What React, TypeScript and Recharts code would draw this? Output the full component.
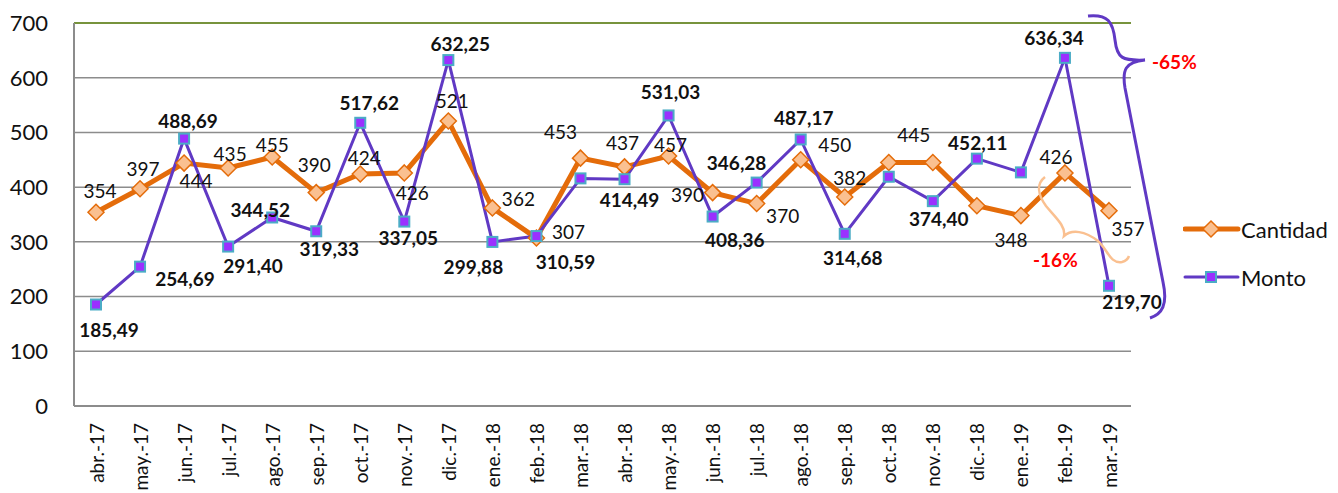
import React from "react";
import {
  CartesianGrid,
  Line,
  LineChart,
  ReferenceLine,
  XAxis,
  YAxis,
} from "recharts";

const MONTHS = [
  "abr.-17", "may.-17", "jun.-17", "jul.-17", "ago.-17", "sep.-17", "oct.-17", "nov.-17",
  "dic.-17", "ene.-18", "feb.-18", "mar.-18", "abr.-18", "may.-18", "jun.-18", "jul.-18",
  "ago.-18", "sep.-18", "oct.-18", "nov.-18", "dic.-18", "ene.-19", "feb.-19", "mar.-19",
];

const CANTIDAD = [
  354, 397, 444, 435, 455, 390, 424, 426, 521, 362, 307, 453,
  437, 457, 390, 370, 450, 382, 445, 445, 366, 348, 426, 357,
];

const MONTO = [
  185.49, 254.69, 488.69, 291.4, 344.52, 319.33, 517.62, 337.05, 632.25, 299.88, 310.59, 416,
  414.49, 531.03, 346.28, 408.36, 487.17, 314.68, 419, 374.4, 452.11, 427, 636.34, 219.7,
];

const Y_TICKS = [0, 100, 200, 300, 400, 500, 600, 700];

// label offsets from the point (dx, dy); null = no label shown
const CANT_LABEL_POS: ([number, number] | null)[] = [
  [4, -22], [3, -20], [12, 17], [2, -14], [0, -13], [-2, -28], [4, -17], [8, 20],
  [4, -20], [26, -9], [32, -7], [-20, -27], [-2, -24], [2, -11], [-25, 2], [26, 12],
  [34, -15], [5, -19], [25, -28], null, null, [-10, 24], [-9, -16], [19, 18],
];

const MONTO_LABEL_POS: ([number, number] | null)[] = [
  [13, 25], [45, 12], [4, -18], [25, 19], [-12, -8], [13, 17], [9, -20], [4, 16],
  [12, -17], [-19, 25], [29, 25], null, [5, 20], [2, -24], [24, -54], [-22, 57],
  [3, -22], [8, 24], null, [6, 17], [1, -16], null, [-11, -20], [23, 16],
];

const data = MONTHS.map((m, i) => ({ mes: m, Cantidad: CANTIDAD[i], Monto: MONTO[i] }));

const FONT = "Lato, 'Open Sans', sans-serif";
const ORANGE = "#E46C0A";
const ORANGE_FILL = "#FAC090";
const PURPLE = "#6039C4";
const VIOLET = "#9B30FF";
const TEAL = "#4BACC6";
const GREEN = "#77933C";

const Diamond = (props: any) => {
  const { cx, cy } = props;
  if (cx == null || cy == null) return null;
  const r = 8;
  return (
    <polygon
      points={`${cx},${cy - r} ${cx + r},${cy} ${cx},${cy + r} ${cx - r},${cy}`}
      fill={ORANGE_FILL}
      stroke={ORANGE}
      strokeWidth={1.5}
    />
  );
};

const Square = (props: any) => {
  const { cx, cy } = props;
  if (cx == null || cy == null) return null;
  return <rect x={cx - 5} y={cy - 5} width={10} height={10} fill={VIOLET} stroke={TEAL} strokeWidth={2} />;
};

const cantLabel = (props: any) => {
  const { x, y, index, value } = props;
  const p = CANT_LABEL_POS[index];
  if (!p) return null;
  return (
    <text x={x + p[0]} y={y + p[1]} textAnchor="middle" dominantBaseline="central"
      fontFamily={FONT} fontSize={19} fill="#111">
      {value}
    </text>
  );
};

const montoLabel = (props: any) => {
  const { x, y, index, value } = props;
  const p = MONTO_LABEL_POS[index];
  if (!p) return null;
  return (
    <text x={x + p[0]} y={y + p[1]} textAnchor="middle" dominantBaseline="central"
      fontFamily={FONT} fontSize={19} fontWeight="bold" fill="#111">
      {Number(value).toFixed(2).replace(".", ",")}
    </text>
  );
};

const MonthTick = (props: any) => {
  const { x, y, payload } = props;
  return (
    <text
      transform={`translate(${x},${y + 17}) rotate(-90)`}
      textAnchor="end"
      dominantBaseline="central"
      fontFamily={FONT}
      fontSize={19}
      fill="#111"
    >
      {payload.value}
    </text>
  );
};

const LegendBox = () => (
  <div style={{ position: "absolute", left: 1183, top: 205, fontFamily: FONT, fontSize: 22, color: "#111" }}>
    <div style={{ display: "flex", alignItems: "center", height: 48 }}>
      <svg width={58} height={20}>
        <line x1={2} y1={10} x2={55} y2={10} stroke={ORANGE} strokeWidth={5} strokeLinecap="round" />
        <polygon points="28,2 36,10 28,18 20,10" fill={ORANGE_FILL} stroke={ORANGE} strokeWidth={1.5} />
      </svg>
      <span>Cantidad</span>
    </div>
    <div style={{ display: "flex", alignItems: "center", height: 48 }}>
      <svg width={58} height={20}>
        <line x1={2} y1={10} x2={55} y2={10} stroke={PURPLE} strokeWidth={3} strokeLinecap="round" />
        <rect x={23} y={5} width={10} height={10} fill={VIOLET} stroke={TEAL} strokeWidth={2} />
      </svg>
      <span>Monto</span>
    </div>
  </div>
);

export default function App() {
  return (
    <div style={{ position: "absolute", left: 0, top: 0, width: 1338, height: 493, background: "#fff", overflow: "hidden" }}>
      <LineChart width={1338} height={493} data={data} margin={{ top: 23, right: 207, left: 0, bottom: 0 }}>
        <CartesianGrid vertical={false} stroke="#8c8c8c" strokeWidth={1.5} />
        <XAxis
          dataKey="mes"
          height={87}
          interval={0}
          padding={{ left: 22, right: 22 }}
          tickLine={false}
          tickSize={0}
          tickMargin={0}
          axisLine={{ stroke: "#8c8c8c", strokeWidth: 2 }}
          tick={<MonthTick />}
        />
        <YAxis
          width={74}
          domain={[0, 700]}
          ticks={Y_TICKS}
          tickLine={false}
          tickSize={0}
          tickMargin={26}
          axisLine={{ stroke: "#8c8c8c", strokeWidth: 2 }}
          tick={{ fontFamily: FONT, fontSize: 22, fill: "#111" }}
        />
        <YAxis
          yAxisId="r"
          orientation="right"
          width={0}
          domain={[0, 700]}
          tick={false}
          tickLine={false}
          axisLine={{ stroke: GREEN, strokeWidth: 2 }}
        />
        <ReferenceLine y={700} stroke={GREEN} strokeWidth={2} />
        <Line
          dataKey="Cantidad"
          stroke={ORANGE}
          strokeWidth={5}
          dot={<Diamond />}
          activeDot={false}
          label={cantLabel}
          isAnimationActive={false}
        />
        <Line
          dataKey="Monto"
          stroke={PURPLE}
          strokeWidth={3}
          dot={<Square />}
          activeDot={false}
          label={montoLabel}
          isAnimationActive={false}
        />
      </LineChart>
      <LegendBox />
      <svg
        width={1338}
        height={493}
        style={{ position: "absolute", left: 0, top: 0, pointerEvents: "none" }}
      >
        <path
          d="M1088,16 C1108,14 1113,22 1115,40 C1117,58 1122,61 1145,60 C1125,62 1122,70 1125,88 L1163,282 C1168,305 1162,314 1150,318"
          fill="none"
          stroke={PURPLE}
          strokeWidth={3}
        />
        <text x={1152} y={61} dominantBaseline="central" fontFamily={FONT} fontSize={19} fontWeight="bold" fill="#FF0000">
          -65%
        </text>
        <path
          d="M1045,177 C1036,184 1038,195 1046,206 C1055,217 1066,226 1064,236 C1072,229 1085,231 1098,241 C1108,250 1110,264 1122,262 C1126,261 1128,259 1129,256"
          fill="none"
          stroke={ORANGE_FILL}
          strokeWidth={2.5}
        />
        <text x={1033} y={259} dominantBaseline="central" fontFamily={FONT} fontSize={19} fontWeight="bold" fill="#FF0000">
          -16%
        </text>
      </svg>
    </div>
  );
}
